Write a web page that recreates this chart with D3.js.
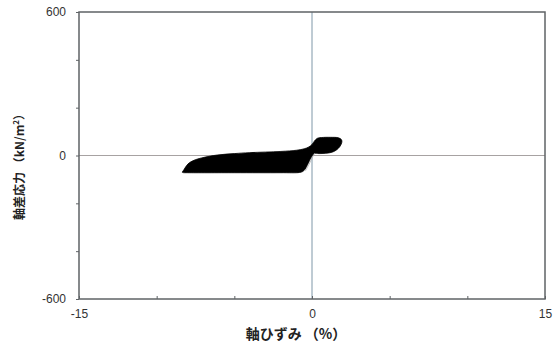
<!DOCTYPE html>
<html><head><meta charset="utf-8">
<script src="https://cdn.jsdelivr.net/npm/d3@7"></script>
<style>html,body{margin:0;padding:0;background:#fff;}svg{display:block;}</style>
</head><body>
<svg id="chart" width="554" height="349"></svg>
<script>
// Data: outline of the stacked stress-strain loops (strain %, deviator stress kN/m2)
const strainOutline = [-8.35,-8.25,-7.98,-7.6,-7.1,-6.1,-5.0,-4.0,-2.0,-1.0,-0.5,-0.2,0.0,0.15,0.35,0.6,1.2,1.7,1.9,1.92,1.8,1.55,1.25,0.85,0.45,0.15,0.0,-0.15,-0.3,-0.45,-0.6,-0.8,-2.0,-5.0,-8.0,-8.3];
const stressOutline = [-70,-60,-35,-20,-10,2,8,12,17,22,28,36,46,60,72,75,76,74,66,55,38,22,13,9,8,8,-2,-20,-40,-58,-67,-71,-72,-72,-72,-71.5];
// inner light streaks (unloading branches)
const innerStrain = [-0.42,-0.20,0.02,0.18];
const innerStress = [-64,-38,-8,10];
const xTicks = [-15,-10,-5,0,5,10,15];
const xTickLabels = ["-15","","","0","","","15"];
const yTicks = [-600,-400,-200,0,200,400,600];
const yTickLabels = ["-600","","","0","","","600"];
const xTitle = "軸ひずみ （%）";
const yTitle = "軸差応力 （kN/m";

const svg = d3.select("#chart");
const L = 79, R = 545, T = 12, B = 299;
const x = d3.scaleLinear().domain([-15,15]).range([L,R]);
const y = d3.scaleLinear().domain([-600,600]).range([B,T]);
const frameColor = "#5f6366";
const textColor = "#333";

// zero lines
svg.append("line").attr("x1",x(0)).attr("x2",x(0)).attr("y1",T).attr("y2",B)
  .attr("stroke","#7f97a8").attr("stroke-width",1);
svg.append("line").attr("x1",L).attr("x2",R).attr("y1",y(0)).attr("y2",y(0))
  .attr("stroke","#a7a2a2").attr("stroke-width",1);

// data shape
const pts = strainOutline.map((s,i)=>[s, stressOutline[i]]);
const line = d3.line().x(d=>x(d[0])).y(d=>y(d[1])).curve(d3.curveCatmullRomClosed.alpha(0.5));
svg.append("path").attr("d", line(pts)).attr("fill","#000").attr("stroke","#000").attr("stroke-width",0.8);
const inner = innerStrain.map((s,i)=>[s, innerStress[i]]);
svg.append("path").attr("d", d3.line().x(d=>x(d[0])).y(d=>y(d[1])).curve(d3.curveCatmullRom)(inner))
  .attr("fill","none").attr("stroke","#aaa").attr("stroke-width",0.8);

// frame
svg.append("rect").attr("x",L).attr("y",T).attr("width",R-L).attr("height",B-T)
  .attr("fill","none").attr("stroke",frameColor).attr("stroke-width",1.5);

// axes
const xAxis = d3.axisBottom(x).tickValues(xTicks).tickSize(-3).tickFormat((d,i)=>xTickLabels[i]).tickPadding(8);
const gx = svg.append("g").attr("transform",`translate(0,${B})`).call(xAxis);
gx.select(".domain").remove();
gx.selectAll(".tick line").attr("stroke",frameColor);
gx.selectAll("text").attr("fill",textColor).style("font-family","Liberation Sans, Arial, sans-serif").style("font-size","12px").attr("dy","0.9em");

const yAxis = d3.axisLeft(y).tickValues(yTicks).tickSize(3).tickFormat((d,i)=>yTickLabels[i]).tickPadding(10);
const gy = svg.append("g").attr("transform",`translate(${L},0)`).call(yAxis);
gy.select(".domain").remove();
gy.selectAll(".tick line").attr("stroke",frameColor);
gy.selectAll("text").attr("fill",textColor).style("font-family","Liberation Sans, Arial, sans-serif").style("font-size","12px");

// titles
svg.append("text").attr("x",296).attr("y",339).attr("text-anchor","middle")
  .attr("fill","#222").style("font-family","Noto Sans CJK JP, sans-serif").style("font-size","14px").style("font-weight","bold")
  .text(xTitle);
const yt = svg.append("text").attr("transform","translate(24,164) rotate(-90)").attr("text-anchor","middle")
  .attr("fill","#222").style("font-family","Noto Sans CJK JP, sans-serif").style("font-size","12px").style("font-weight","bold");
yt.append("tspan").text(yTitle);
yt.append("tspan").attr("font-size","8px").attr("dy","-5").text("2");
yt.append("tspan").attr("dy","5").text("）");
</script>
</body></html>
